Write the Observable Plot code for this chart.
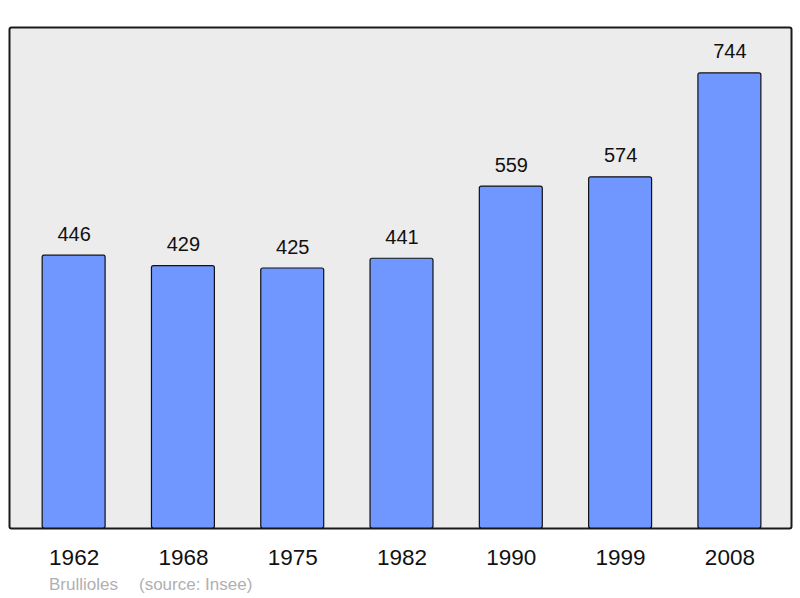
<!DOCTYPE html>
<html>
<head>
<meta charset="utf-8">
<script src="https://cdn.jsdelivr.net/npm/d3@7"></script>
<script src="https://cdn.jsdelivr.net/npm/@observablehq/plot@0.6"></script>
<style>
  html, body { margin: 0; padding: 0; background: #fff; }
  #chart { position: relative; width: 800px; height: 598px; font-family: "Liberation Sans", Arial, sans-serif; }
  #caption { position: absolute; left: 49px; top: 575px; font-size: 17px; line-height: 20px; color: #b0b0b0; white-space: nowrap; }
  #caption span + span { margin-left: 21px; }
</style>
</head>
<body>
<div id="chart"><div id="caption"><span id="commune"></span><span id="source"></span></div></div>
<script>
const years = ["1962", "1968", "1975", "1982", "1990", "1999", "2008"];
const population = [446, 429, 425, 441, 559, 574, 744];
const commune = "Brullioles";
const source = "(source: Insee)";

document.getElementById("commune").textContent = commune;
document.getElementById("source").textContent = source;

const data = years.map((y, i) => ({year: y, pop: population[i]}));

const plot = Plot.plot({
  width: 800,
  height: 572,
  marginLeft: 9,
  marginRight: 9,
  marginTop: 27,
  marginBottom: 44,
  style: {fontFamily: "Liberation Sans, Arial, sans-serif", background: "transparent", color: "#111"},
  x: {domain: years, paddingInner: 0.424, paddingOuter: 0.2895, align: 0.524, round: false, label: null},
  y: {domain: [0, 819], axis: null},
  marks: [
    Plot.frame({fill: "#ececec", stroke: "#1a1a1a", strokeWidth: 2, rx: 2}),
    Plot.barY(data, {x: "year", y: "pop", fill: "#7096ff", stroke: "#111", strokeWidth: 1.2, rx: 2}),
    Plot.text(data, {x: "year", y: "pop", text: d => String(d.pop), dy: -15, lineAnchor: "bottom", fontSize: 20, fill: "#111"}),
    Plot.axisX({tickSize: 0, tickPadding: 21, fontSize: 22.5, label: null, fill: "#111"})
  ]
});
document.getElementById("chart").prepend(plot);
</script>
</body>
</html>
